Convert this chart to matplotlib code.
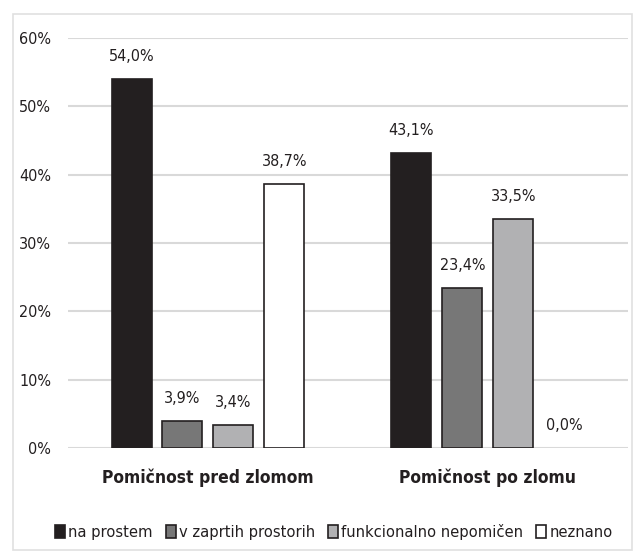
import matplotlib.pyplot as plt
import numpy as np
from matplotlib.patches import Rectangle
from matplotlib.ticker import FuncFormatter

plt.rcParams['font.family'] = ['DejaVu Sans']
plt.rcParams['font.stretch'] = 'condensed'

# Podatki
skupine = ['Pomičnost pred zlomom', 'Pomičnost po zlomu']
serije = ['na prostem', 'v zaprtih prostorih', 'funkcionalno nepomičen', 'neznano']
vrednosti = [
    [54.0, 43.1],
    [3.9, 23.4],
    [3.4, 33.5],
    [38.7, 0.0],
]
barve = ['#231f20', '#777777', '#b1b1b3', '#ffffff']

fig = plt.figure(figsize=(6.38, 5.54), dpi=100)
ax = fig.add_axes([0.1066, 0.1913, 0.8774, 0.7401])

x = np.arange(len(skupine))
sirina = 0.143
korak = 0.182

for i, (ime, vals) in enumerate(zip(serije, vrednosti)):
    pos = x + (i - 1.5) * korak
    lw = [1.2 if v > 0 else 0 for v in vals]
    ax.bar(pos, vals, width=sirina, color=barve[i], edgecolor='#231f20',
           linewidth=lw, label=ime, zorder=3)
    for p, v in zip(pos, vals):
        ax.text(p, v + 2.2, f'{v:.1f}%'.replace('.', ','), ha='center',
                va='bottom', fontsize=11.5, color='#231f20')

ax.set_xlim(-0.5, 1.5)
ax.set_ylim(0, 60)
ax.set_yticks(np.arange(0, 61, 10))
ax.yaxis.set_major_formatter(FuncFormatter(lambda v, _: f'{v:.0f}%'))
ax.yaxis.grid(True, color='#d9d9d9', linewidth=1.5, zorder=0)
ax.set_axisbelow(True)
ax.tick_params(axis='y', length=0, labelsize=11.5, pad=12, colors='#231f20')
ax.set_xticks(x)
ax.set_xticklabels(skupine, fontsize=12.5, fontweight='bold', color='#231f20')
ax.tick_params(axis='x', length=0, pad=15)
for s in ax.spines.values():
    s.set_visible(False)

ax.legend(loc='upper center', bbox_to_anchor=(0.475, -0.15), ncol=4, frameon=False,
          fontsize=11.8, handlelength=0.6, handleheight=0.8, handletextpad=0.2,
          columnspacing=0.8, labelcolor='#231f20')

# Okvir grafikona
okvir = Rectangle((13 / 638, 4 / 554), 619 / 638, 536 / 554, transform=fig.transFigure,
                  fill=False, edgecolor='#e0e0e0', linewidth=1.2)
fig.patches.append(okvir)

plt.savefig('out.png', dpi=100)
plt.close()
